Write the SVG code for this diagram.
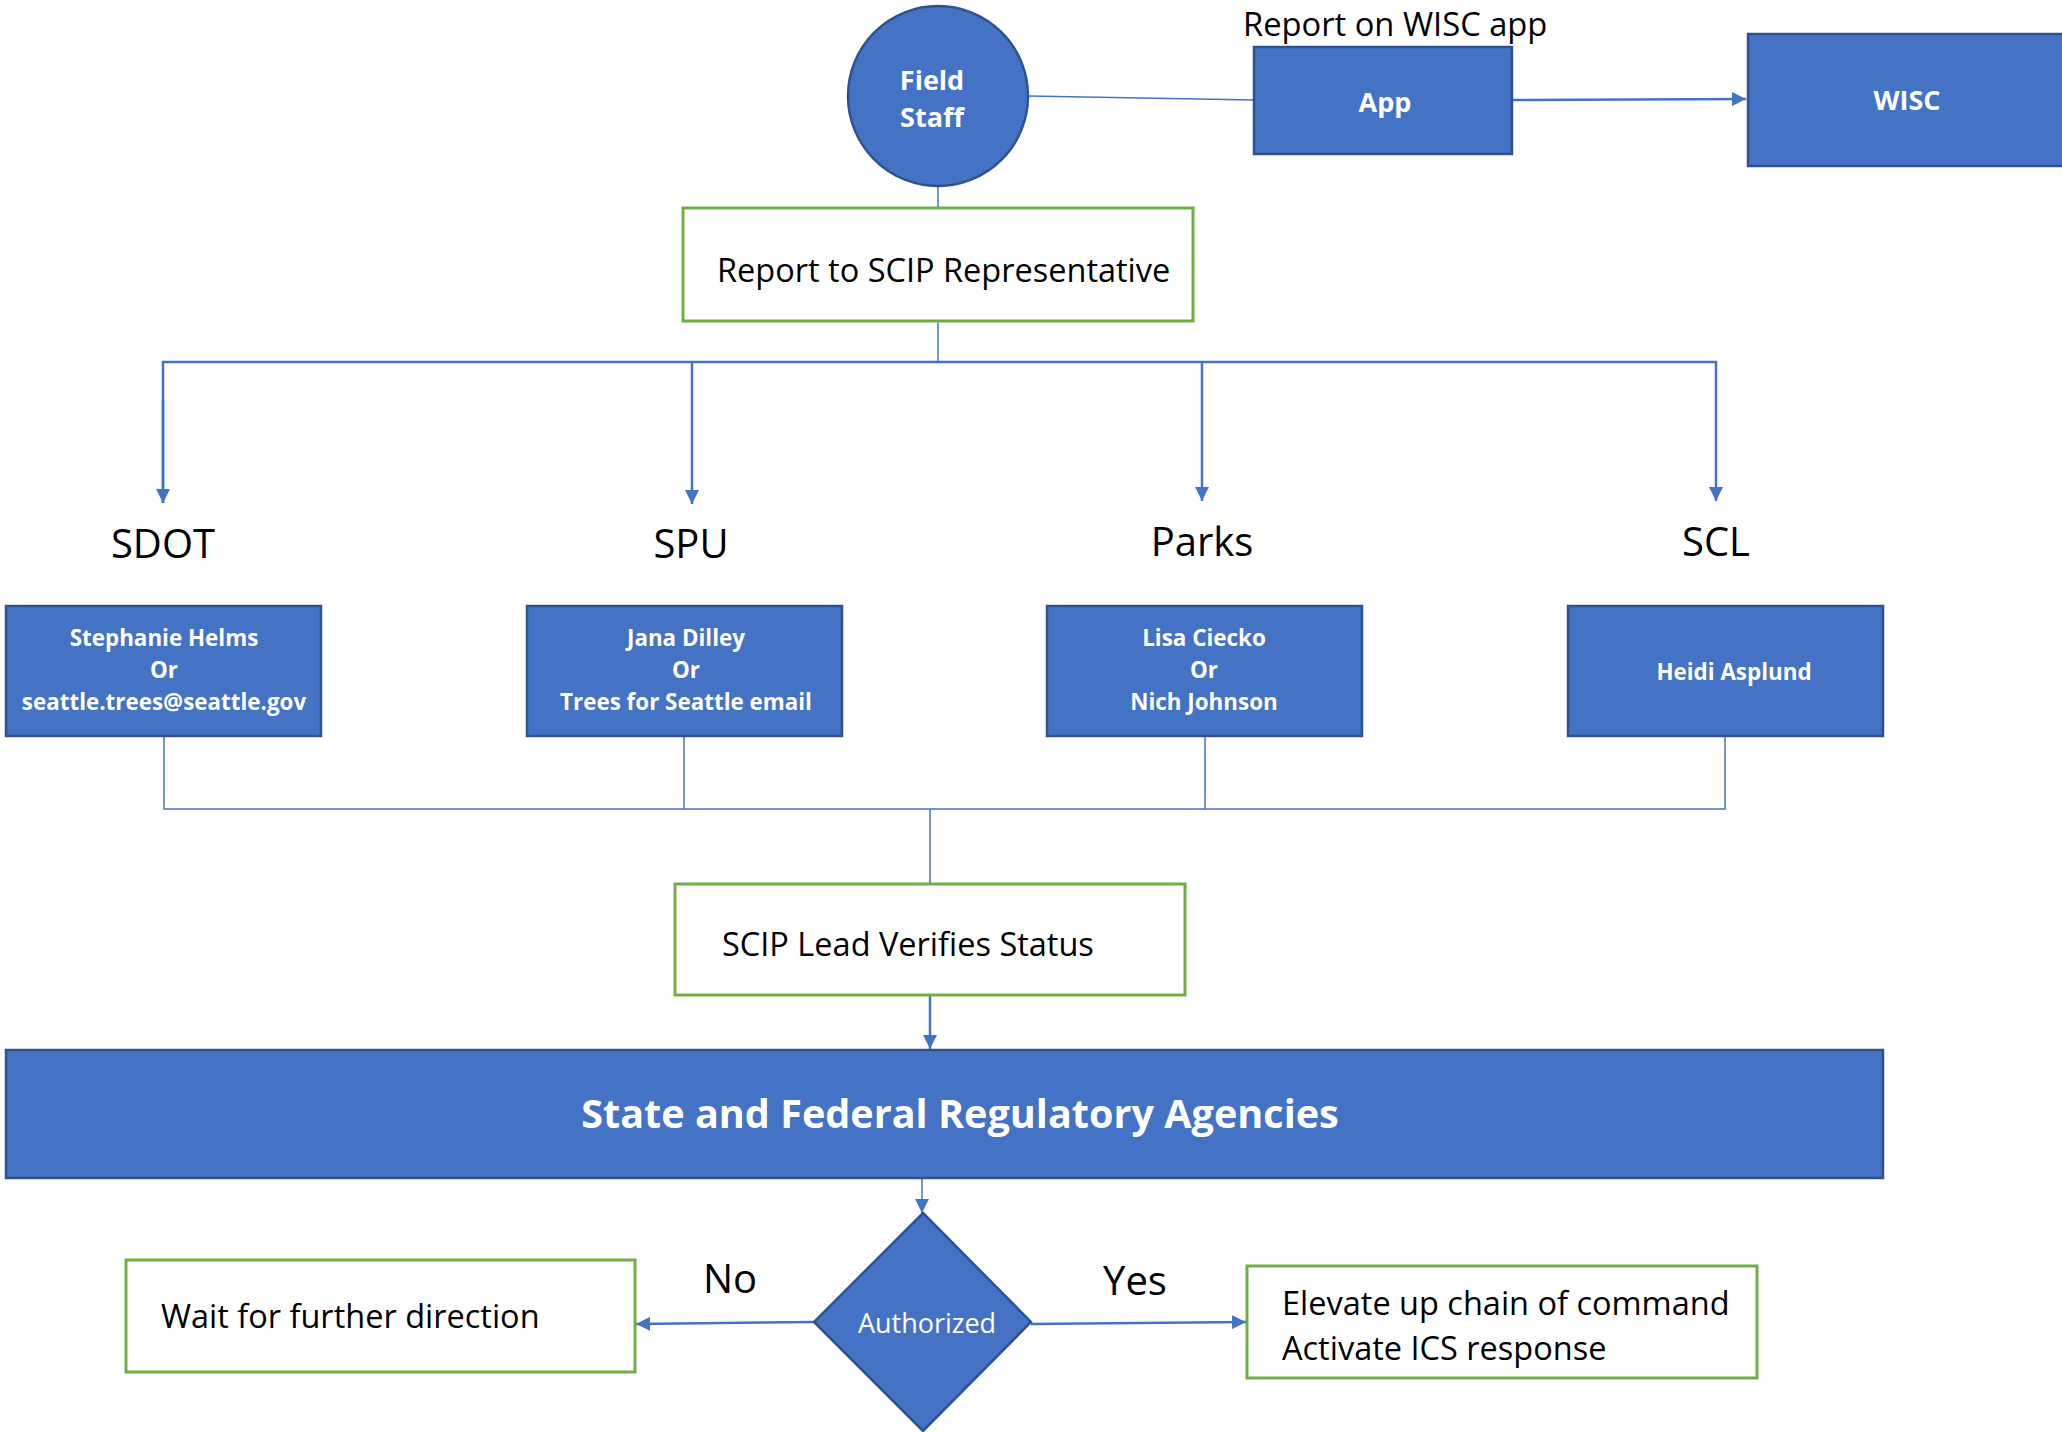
<svg xmlns="http://www.w3.org/2000/svg" width="2062" height="1432" viewBox="0 0 2062 1432">
<style>
.blue{fill:#4472C4;stroke:#2F528F;stroke-width:2.5}
.green{fill:#FFFFFF;stroke:#70AD47;stroke-width:3}
.wb{font-family:"Open Sans","Liberation Sans",sans-serif;font-weight:bold;fill:#FFFFFF;text-anchor:middle}
.bk{font-family:"Open Sans","Liberation Sans",sans-serif;fill:#000000}
.c{fill:none;stroke:#4472C4;stroke-width:1.5}
.ca{fill:none;stroke:#4472C4;stroke-width:2.5}
</style>
<defs>
<marker id="ahs" viewBox="0 0 10 10" refX="10" refY="5" markerWidth="14" markerHeight="14" markerUnits="userSpaceOnUse" orient="auto">
<path d="M0,0 L10,5 L0,10 z" fill="#4472C4"/>
</marker>
</defs>

<g id="connectors">
<line class="c" x1="1028" y1="96" x2="1254" y2="100"/>
<line class="ca" x1="1512" y1="100" x2="1746" y2="99" marker-end="url(#ahs)"/>
<line class="c" x1="938" y1="186" x2="938" y2="208"/>
<line class="c" x1="938" y1="321" x2="938" y2="362"/>
<polyline class="ca" points="163,503 163,362 1716,362 1716,501" marker-end="url(#ahs)"/>
<line class="ca" x1="692" y1="362" x2="692" y2="504" marker-end="url(#ahs)"/>
<line class="ca" x1="1202" y1="362" x2="1202" y2="501" marker-end="url(#ahs)"/>
<line class="ca" x1="163" y1="400" x2="163" y2="503" marker-end="url(#ahs)"/>
<polyline class="c" points="164,736 164,809 1725,809 1725,736"/>
<line class="c" x1="684" y1="736" x2="684" y2="809"/>
<line class="c" x1="1205" y1="736" x2="1205" y2="809"/>
<line class="c" x1="930" y1="809" x2="930" y2="884"/>
<line class="ca" x1="930" y1="995" x2="930" y2="1049" marker-end="url(#ahs)"/>
<line class="c" x1="922" y1="1178" x2="922" y2="1213" marker-end="url(#ahs)"/>
<line class="ca" x1="814" y1="1322" x2="636" y2="1324" marker-end="url(#ahs)"/>
<line class="ca" x1="1031" y1="1324" x2="1246" y2="1322" marker-end="url(#ahs)"/>
</g>

<g id="field-staff">
<circle class="blue" cx="938" cy="96" r="90"/>
<text class="wb" font-size="27" x="932" y="90">Field</text>
<text class="wb" font-size="27" x="932" y="127">Staff</text>
</g>

<g id="report-wisc-label">
<text class="bk" font-size="32.7" x="1243" y="36">Report on WISC app</text>
</g>

<g id="app">
<rect class="blue" x="1254" y="47" width="258" height="107"/>
<text class="wb" font-size="27" x="1385" y="112">App</text>
</g>

<g id="wisc">
<rect class="blue" x="1748" y="34" width="318" height="132"/>
<text class="wb" font-size="27" x="1907" y="110">WISC</text>
</g>

<g id="report-scip">
<rect class="green" x="683" y="208" width="510" height="113"/>
<text class="bk" font-size="32.5" x="717" y="282">Report to SCIP Representative</text>
</g>

<g id="sdot-label"><text class="bk" font-size="40" x="163" y="558" text-anchor="middle">SDOT</text></g>
<g id="spu-label"><text class="bk" font-size="40" x="691" y="558" text-anchor="middle">SPU</text></g>
<g id="parks-label"><text class="bk" font-size="40" x="1202" y="556" text-anchor="middle">Parks</text></g>
<g id="scl-label"><text class="bk" font-size="40" x="1716" y="556" text-anchor="middle">SCL</text></g>

<g id="sdot">
<rect class="blue" x="6" y="606" width="315" height="130"/>
<text class="wb" font-size="22.4" x="164" y="646">Stephanie Helms</text>
<text class="wb" font-size="22.4" x="164" y="678">Or</text>
<text class="wb" font-size="22.4" x="164" y="710">seattle.trees@seattle.gov</text>
</g>

<g id="spu">
<rect class="blue" x="527" y="606" width="315" height="130"/>
<text class="wb" font-size="22.4" x="686" y="646">Jana Dilley</text>
<text class="wb" font-size="22.4" x="686" y="678">Or</text>
<text class="wb" font-size="22.4" x="686" y="710">Trees for Seattle email</text>
</g>

<g id="parks">
<rect class="blue" x="1047" y="606" width="315" height="130"/>
<text class="wb" font-size="22.4" x="1204" y="646">Lisa Ciecko</text>
<text class="wb" font-size="22.4" x="1204" y="678">Or</text>
<text class="wb" font-size="22.4" x="1204" y="710">Nich Johnson</text>
</g>

<g id="scl">
<rect class="blue" x="1568" y="606" width="315" height="130"/>
<text class="wb" font-size="22.4" x="1734" y="680">Heidi Asplund</text>
</g>

<g id="scip-lead">
<rect class="green" x="675" y="884" width="510" height="111"/>
<text class="bk" font-size="32.5" x="722" y="956">SCIP Lead Verifies Status</text>
</g>

<g id="state-federal">
<rect class="blue" x="6" y="1050" width="1877" height="128"/>
<text class="wb" font-size="39.6" x="960" y="1128">State and Federal Regulatory Agencies</text>
</g>

<g id="authorized">
<polygon class="blue" points="923,1213 1031,1322 923,1431 814,1322"/>
<text class="wb" font-size="27" x="927" y="1333" style="font-weight:normal">Authorized</text>
</g>

<g id="no-label"><text class="bk" font-size="40" x="730" y="1293" text-anchor="middle">No</text></g>
<g id="yes-label"><text class="bk" font-size="40" x="1135" y="1295" text-anchor="middle">Yes</text></g>

<g id="wait">
<rect class="green" x="126" y="1260" width="509" height="112"/>
<text class="bk" font-size="32.5" x="161" y="1328">Wait for further direction</text>
</g>

<g id="elevate">
<rect class="green" x="1247" y="1266" width="510" height="112"/>
<text class="bk" font-size="32.5" x="1282" y="1315">Elevate up chain of command</text>
<text class="bk" font-size="32.5" x="1282" y="1360">Activate ICS response</text>
</g>
</svg>
